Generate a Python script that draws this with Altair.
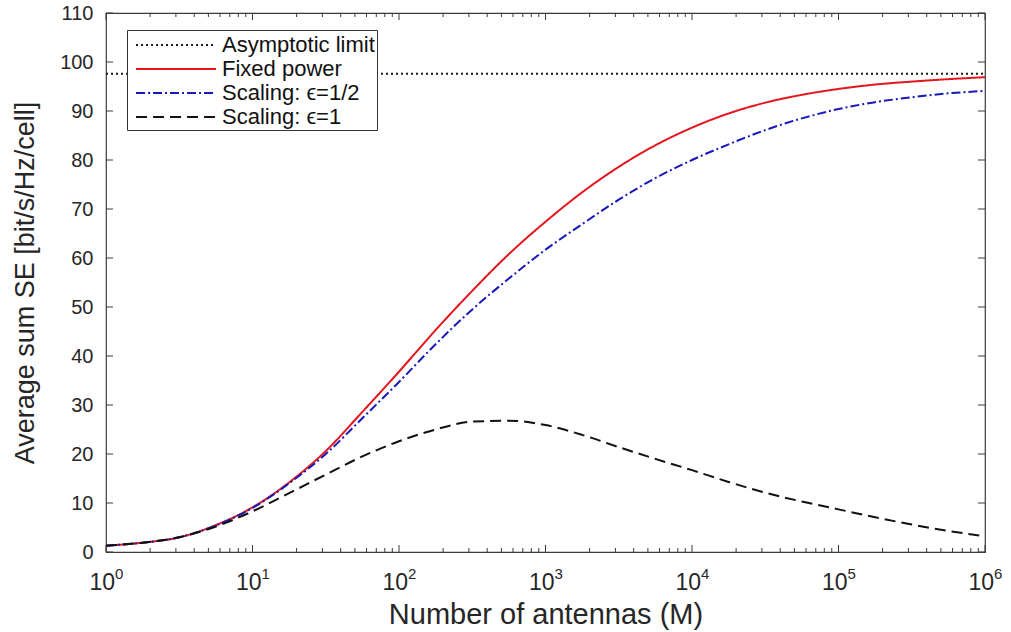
import altair as alt
import pandas as pd

# ---------------- data ----------------
LOG_M = [0.0, 0.25, 0.5, 0.75, 1.0, 1.25, 1.5, 1.75, 2.0, 2.25, 2.5, 2.75, 3.0,
         3.25, 3.5, 3.75, 4.0, 4.25, 4.5, 4.75, 5.0, 5.25, 5.5, 5.75, 6.0]
FIXED_POWER = [1.3, 1.9, 3.0, 5.5, 9.1, 14.2, 20.6, 28.6, 36.8, 45.3, 53.3, 60.8, 67.4,
               73.4, 78.6, 83.0, 86.6, 89.5, 91.7, 93.3, 94.5, 95.4, 96.0, 96.5, 96.9]
SCALING_HALF = [1.3, 1.9, 3.0, 5.4, 9.0, 14.0, 20.0, 27.3, 34.7, 42.4, 49.5, 55.8, 61.7,
                66.9, 71.9, 76.3, 80.0, 83.2, 86.1, 88.5, 90.4, 91.8, 92.8, 93.6, 94.1]
SCALING_ONE = [1.3, 1.9, 3.0, 5.2, 8.3, 12.0, 15.8, 19.5, 22.6, 25.0, 26.6, 26.8, 25.9,
               23.9, 21.4, 19.0, 16.7, 14.3, 12.1, 10.3, 8.7, 7.1, 5.6, 4.3, 3.2]
ASYMPTOTE = 97.6
ASYMPTOTE_M = [1, 1000000]

SERIES = ["Asymptotic limit", "Fixed power", "Scaling: \u03f5=1/2", "Scaling: \u03f5=1"]
COLORS = ["#1a1a1a", "#e3161e", "#1818b8", "#111111"]
DASHES = [[2, 3], [1, 0], [9, 3, 2, 3], [11, 6]]

Y_TICKS = [0, 10, 20, 30, 40, 50, 60, 70, 80, 90, 100, 110]
X_MAJOR = [1, 10, 100, 1000, 10000, 100000, 1000000]
X_BASE = ["10"] * 7
X_EXP = ["0", "1", "2", "3", "4", "5", "6"]
X_MINOR = [m * 10 ** k for k in range(6) for m in range(2, 10)]

# ---------------- build table ----------------
rows = []
for mv in ASYMPTOTE_M:
    rows.append({"M": mv, "SE": ASYMPTOTE, "series": SERIES[0]})
for name, vals in zip(SERIES[1:], [FIXED_POWER, SCALING_HALF, SCALING_ONE]):
    for lm, v in zip(LOG_M, vals):
        rows.append({"M": 10 ** lm, "SE": v, "series": name})
df = pd.DataFrame(rows)

W, H = 879, 539
FONT = "Liberation Sans, Arial, Helvetica, sans-serif"
TXT = "#262626"
AX = "#3a3a3a"

xs = alt.Scale(type="log", domain=[1, 1000000], nice=False)
ys = alt.Scale(domain=[0, 110], nice=False, zero=False)

x_axis = alt.Axis(
    labels=False, ticks=False, domain=False, grid=False,
    title="Number of antennas (M)", titleFont=FONT, titleFontSize=29,
    titleFontWeight="normal", titleColor=TXT, titleX=W / 2, titleY=71,
    titleAlign="center", titleBaseline="alphabetic")
y_axis = alt.Axis(
    values=Y_TICKS, ticks=False, domain=False, grid=False,
    labelFont=FONT, labelFontSize=20, labelColor=TXT, labelPadding=13,
    title="Average sum SE [bit/s/Hz/cell]", titleFont=FONT, titleFontSize=27,
    titleFontWeight="normal", titleColor=TXT, titleX=-81, titleY=H / 2,
    titleAlign="center", titleBaseline="middle", titleAngle=270)

legend = alt.Legend(
    title=None, orient="none", legendX=21, legendY=17,
    symbolType="M-3.33,0H3.33", symbolSize=576, symbolStrokeWidth=2,
    symbolOffset=34, labelOffset=33,
    labelFontSize=22, labelFont=FONT, labelColor="#111111",
    strokeColor="#333333", fillColor="white", padding=2, rowPadding=0,
    labelLimit=400,
)

lines = alt.Chart(df).mark_line(strokeWidth=2, interpolate="monotone").encode(
    x=alt.X("M:Q", scale=xs, axis=x_axis),
    y=alt.Y("SE:Q", scale=ys, axis=y_axis),
    color=alt.Color("series:N", scale=alt.Scale(domain=SERIES, range=COLORS), legend=legend),
    strokeDash=alt.StrokeDash("series:N", scale=alt.Scale(domain=SERIES, range=DASHES), legend=legend),
)

major_df = pd.DataFrame({"M": X_MAJOR, "base": X_BASE, "exp": X_EXP})
minor_df = pd.DataFrame({"M": X_MINOR})
ytick_df = pd.DataFrame({"SE": Y_TICKS})

def xrule(data, y1, y2):
    return alt.Chart(data).mark_rule(color=AX, strokeWidth=1).encode(
        x=alt.X("M:Q", scale=xs, axis=x_axis), y=alt.value(y1), y2=alt.value(y2))

def yrule(x1, x2):
    return alt.Chart(ytick_df).mark_rule(color=AX, strokeWidth=1).encode(
        y=alt.Y("SE:Q", scale=ys, axis=y_axis), x=alt.value(x1), x2=alt.value(x2))

ticks = [
    xrule(major_df, H, H - 7), xrule(major_df, 0, 7),
    xrule(minor_df, H, H - 4), xrule(minor_df, 0, 4),
    yrule(0, 7), yrule(W, W - 7),
]

base_lbl = alt.Chart(major_df).mark_text(
    align="right", baseline="alphabetic", dx=9, fontSize=23, font=FONT, color=TXT
).encode(x=alt.X("M:Q", scale=xs, axis=x_axis), y=alt.value(H + 38), text="base:N")
exp_lbl = alt.Chart(major_df).mark_text(
    align="left", baseline="alphabetic", dx=9, fontSize=15, font=FONT, color=TXT
).encode(x=alt.X("M:Q", scale=xs, axis=x_axis), y=alt.value(H + 27), text="exp:N")

chart = alt.layer(lines, *ticks, base_lbl, exp_lbl).properties(
    width=W, height=H,
    autosize=alt.AutoSizeParams(type="none"),
    padding={"left": 106, "top": 13, "right": 26, "bottom": 80},
    background="white",
).configure_view(stroke=AX, strokeWidth=1.2)

chart.save("out.html", embed_options={"renderer": "svg", "actions": False})
